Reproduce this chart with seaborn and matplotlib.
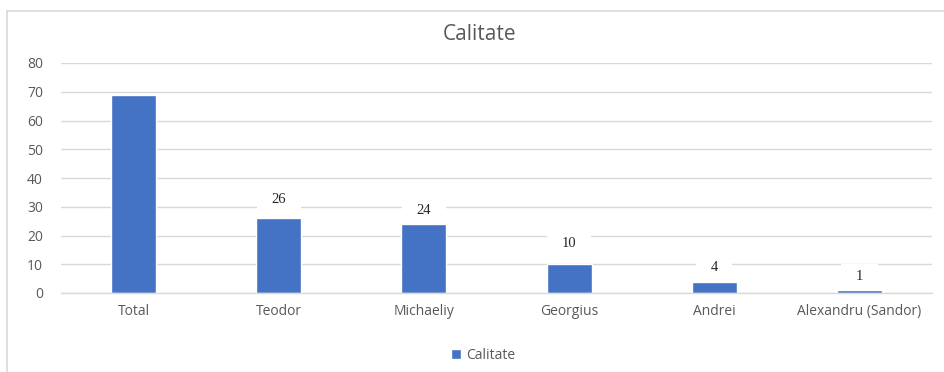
import matplotlib
matplotlib.use("Agg")
import matplotlib.pyplot as plt
from matplotlib.path import Path
from matplotlib.lines import Line2D
import seaborn as sns
import pandas as pd

# Data
categories = ["Total", "Teodor", "Michaeliy", "Georgius", "Andrei", "Alexandru (Sandor)"]
values = [69, 26, 24, 10, 4, 1]
series_name = "Calitate"
y_ticks = [0, 10, 20, 30, 40, 50, 60, 70, 80]

# Which bars carry a value label, and how far above the bar top (points)
labelled = [False, True, True, True, True, True]
label_lift = [0, 13.7, 9.4, 15.1, 10.4, 10.1]

BAR_COLOR = "#4472C4"
GRID_COLOR = "#D9D9D9"
TEXT_COLOR = "#595959"

sns.set_theme(style="white")
plt.rcParams["font.family"] = ["Open Sans", "DejaVu Sans"]

df = pd.DataFrame({"name": categories, "value": values, "series": series_name})

fig = plt.figure(figsize=(9.44, 3.72), dpi=100)
ax = fig.add_axes([61 / 944, 1 - 293 / 372, (932 - 61) / 944, (293 - 63) / 372])

sns.barplot(data=df, x="name", y="value", hue="series", palette=[BAR_COLOR],
            width=0.31, saturation=1, ax=ax, legend=True)

ax.set_ylim(0, 80)
ax.set_xlim(-0.5, len(categories) - 0.5)
ax.set_yticks(y_ticks)
ax.set_xlabel("")
ax.set_ylabel("")
ax.set_axisbelow(True)
ax.yaxis.grid(True, color=GRID_COLOR, linewidth=1)
ax.xaxis.grid(False)
for side in ["top", "right", "left"]:
    ax.spines[side].set_visible(False)
ax.spines["bottom"].set_color(GRID_COLOR)
ax.spines["bottom"].set_linewidth(1)
ax.tick_params(axis="both", length=0, colors=TEXT_COLOR, labelsize=10)
ax.tick_params(axis="y", pad=13)
ax.tick_params(axis="x", pad=8)

fig.text(480 / 944, 1 - 34 / 372, "Calitate", ha="center", va="center",
         fontsize=15, color=TEXT_COLOR)


# White label box, wider than tall
def wide_box(x0, y0, width, height, mutation_size):
    px = 1.0 * mutation_size
    py = 0.38 * mutation_size
    x0, y0 = x0 - px, y0 - py
    x1, y1 = x0 + width + 2 * px, y0 + height + 2 * py
    return Path([(x0, y0), (x1, y0), (x1, y1), (x0, y1), (x0, y0)], closed=True)


for i, (v, show, lift) in enumerate(zip(values, labelled, label_lift)):
    if not show:
        continue
    ax.annotate(str(v), xy=(i, v), xytext=(0, lift), textcoords="offset points",
                ha="center", va="center", fontsize=10.5, color="#262626",
                family=["Liberation Serif", "DejaVu Serif"], zorder=4,
                bbox=dict(boxstyle=wide_box, facecolor="white", edgecolor="none"))

legend_x = (483 - 61) / (932 - 61)
sns.move_legend(ax, "center", bbox_to_anchor=(legend_x, -0.27), frameon=False, title=None,
                handlelength=0.7, handleheight=0.7, handletextpad=0.4, fontsize=10)
for t in ax.get_legend().get_texts():
    t.set_color(TEXT_COLOR)

# Chart area frame
fig.add_artist(Line2D([6.5 / 944, 1.0], [1 - 10.5 / 372] * 2, color=GRID_COLOR,
                      linewidth=1.2, transform=fig.transFigure))
fig.add_artist(Line2D([6.5 / 944] * 2, [0.0, 1 - 10.5 / 372], color=GRID_COLOR,
                      linewidth=1.2, transform=fig.transFigure))

fig.savefig("out.png", dpi=100)
